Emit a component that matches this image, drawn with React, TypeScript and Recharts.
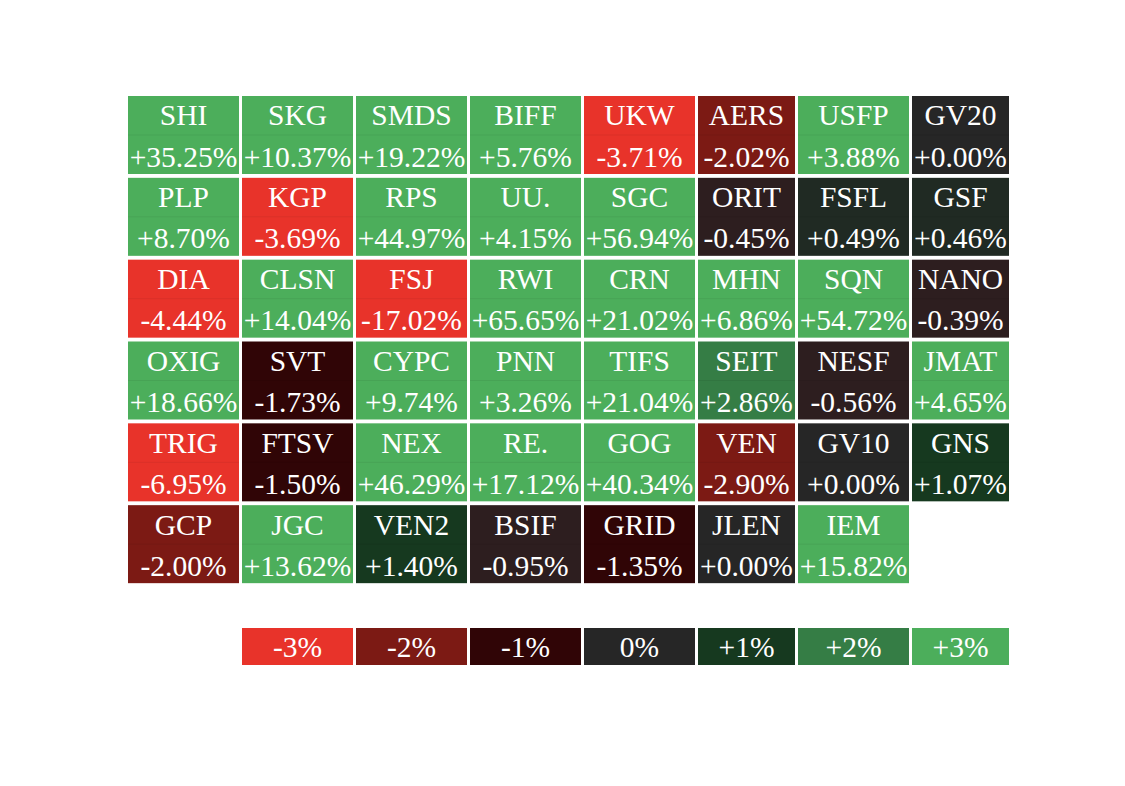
import React from 'react';
import { BarChart, Bar, XAxis, YAxis } from 'recharts';

const tickers = [
  'SHI', 'SKG', 'SMDS', 'BIFF', 'UKW', 'AERS', 'USFP', 'GV20',
  'PLP', 'KGP', 'RPS', 'UU.', 'SGC', 'ORIT', 'FSFL', 'GSF',
  'DIA', 'CLSN', 'FSJ', 'RWI', 'CRN', 'MHN', 'SQN', 'NANO',
  'OXIG', 'SVT', 'CYPC', 'PNN', 'TIFS', 'SEIT', 'NESF', 'JMAT',
  'TRIG', 'FTSV', 'NEX', 'RE.', 'GOG', 'VEN', 'GV10', 'GNS',
  'GCP', 'JGC', 'VEN2', 'BSIF', 'GRID', 'JLEN', 'IEM',
];

const changes = [
  35.25, 10.37, 19.22, 5.76, -3.71, -2.02, 3.88, 0.0,
  8.7, -3.69, 44.97, 4.15, 56.94, -0.45, 0.49, 0.46,
  -4.44, 14.04, -17.02, 65.65, 21.02, 6.86, 54.72, -0.39,
  18.66, -1.73, 9.74, 3.26, 21.04, 2.86, -0.56, 4.65,
  -6.95, -1.5, 46.29, 17.12, 40.34, -2.9, 0.0, 1.07,
  -2.0, 13.62, 1.4, -0.95, -1.35, 0.0, 15.82,
];

const legendLabels = ['-3%', '-2%', '-1%', '0%', '+1%', '+2%', '+3%'];
const legendValues = [-3, -2, -1, 0, 1, 2, 3];

// layout settings (not data)
const columnCount = 8;
const colUnits = [114, 114, 114, 114, 114, 100, 114, 100];
const totalUnits = colUnits.reduce((a, b) => a + b, 0);
const FONT = "'Liberation Serif', 'Times New Roman', serif";
const textStyle = { fontFamily: FONT, fontSize: 29.5 };

const COLORS = {
  m3: '#E8332A',
  m2: '#7C1A14',
  m1: '#300506',
  n0: '#2D1E1F',
  z: '#262626',
  p0: '#202A23',
  p1: '#16391F',
  p2: '#357D45',
  p3: '#4CAE5B',
};

function colorFor(v: number): string {
  if (v <= -3) return COLORS.m3;
  if (v <= -2) return COLORS.m2;
  if (v <= -1) return COLORS.m1;
  if (v < 0) return COLORS.n0;
  if (v === 0) return COLORS.z;
  if (v < 1) return COLORS.p0;
  if (v < 2) return COLORS.p1;
  if (v < 3) return COLORS.p2;
  return COLORS.p3;
}

function fmt(v: number): string {
  return (v >= 0 ? '+' : '') + v.toFixed(2) + '%';
}

const rowCount = Math.ceil(tickers.length / columnCount);
const gridData = Array.from({ length: rowCount }, (_, r) => {
  const o: any = { row: r };
  colUnits.forEach((w, c) => (o['c' + c] = w));
  return o;
});

const legendData = [
  (() => {
    const o: any = { row: 0 };
    colUnits.forEach((w, c) => (o['c' + c] = w));
    return o;
  })(),
];

const makeTile = (c: number) => (props: any) => {
  const { x, y, width, height, index } = props;
  const r = props.payload && props.payload.row != null ? props.payload.row : index;
  const i = r * columnCount + c;
  if (i >= tickers.length) return <g />;
  const v = changes[i];
  const rx = x + 1.5;
  const ry = y + 2;
  const rw = width - 3;
  const rh = height - 4;
  const cx = rx + rw / 2;
  return (
    <g>
      <rect x={rx} y={ry} width={rw} height={rh} fill={colorFor(v)} />
      <line x1={rx} x2={rx + rw} y1={ry + rh / 2} y2={ry + rh / 2} stroke="rgba(0,0,0,0.06)" strokeWidth={1} />
      <text x={cx} y={ry + rh * 0.377} textAnchor="middle" fill="#ffffff" style={textStyle}>
        {tickers[i]}
      </text>
      <text x={cx} y={ry + rh * 0.905} textAnchor="middle" fill="#ffffff" style={textStyle}>
        {fmt(v)}
      </text>
    </g>
  );
};

const makeLegend = (c: number) => (props: any) => {
  const { x, y, width, height } = props;
  const k = c - 1;
  if (k < 0 || k >= legendValues.length) return <g />;
  const rx = x + 1.5;
  const ry = y + 2;
  const rw = width - 3;
  const rh = height - 4;
  return (
    <g>
      <rect x={rx} y={ry} width={rw} height={rh} fill={colorFor(legendValues[k])} />
      <text x={rx + rw / 2} y={ry + rh * 0.79} textAnchor="middle" fill="#ffffff" style={textStyle}>
        {legendLabels[k]}
      </text>
    </g>
  );
};

const LEFT = 118.5;
const RIGHT = 1109 - LEFT - totalUnits;

export default function App() {
  return (
    <div style={{ position: 'relative', width: 1109, height: 770, background: '#ffffff' }}>
      <div style={{ position: 'absolute', left: 0, top: 0 }}>
        <BarChart
          width={1109}
          height={600}
          data={gridData}
          layout="vertical"
          barCategoryGap={0}
          barGap={0}
          margin={{ top: 86, left: LEFT, right: RIGHT, bottom: 23 }}
        >
          <XAxis type="number" domain={[0, totalUnits]} hide />
          <YAxis type="category" dataKey="row" hide width={0} />
          {colUnits.map((_, c) => (
            <Bar
              key={c}
              dataKey={'c' + c}
              stackId="grid"
              isAnimationActive={false}
              shape={makeTile(c)}
            />
          ))}
        </BarChart>
      </div>
      <div style={{ position: 'absolute', left: 0, top: 600 }}>
        <BarChart
          width={1109}
          height={100}
          data={legendData}
          layout="vertical"
          barCategoryGap={0}
          barGap={0}
          margin={{ top: 18, left: LEFT, right: RIGHT, bottom: 41 }}
        >
          <XAxis type="number" domain={[0, totalUnits]} hide />
          <YAxis type="category" dataKey="row" hide width={0} />
          {colUnits.map((_, c) => (
            <Bar
              key={c}
              dataKey={'c' + c}
              stackId="legend"
              isAnimationActive={false}
              shape={makeLegend(c)}
            />
          ))}
        </BarChart>
      </div>
    </div>
  );
}
